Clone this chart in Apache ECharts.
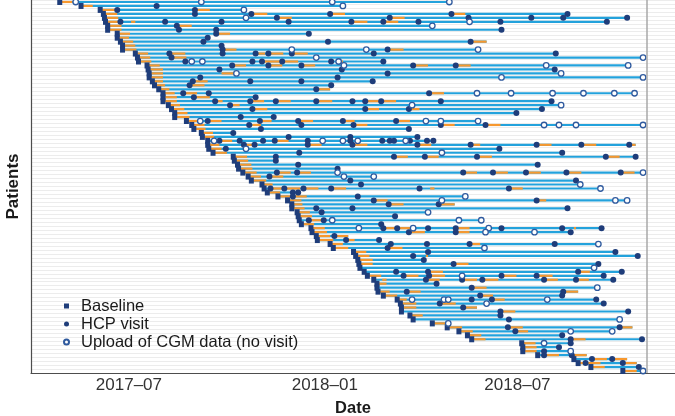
<!DOCTYPE html>
<html>
<head>
<meta charset="utf-8">
<script src="https://cdn.jsdelivr.net/npm/echarts@6/dist/echarts.min.js"></script>
<style>
html, body { margin: 0; padding: 0; background: #fff; }
#chart { width: 675px; height: 416px; }
</style>
</head>
<body>
<div id="chart"></div>
<script>
// days are counted from 2017-07-01 (day 0), one row per patient, top to bottom
var baselineDay = [-65, -45, -27, -24, -23, -22, -20, -20, -11, -11,
	-8, -6, -6, 6, 8, 9, 17, 18, 19, 19,
	22, 24, 28, 32, 32, 32, 37, 40, 43, 43,
	54, 59, 61, 68, 69, 74, 74, 75, 79, 98,
	99, 102, 103, 107, 112, 115, 125, 127, 130, 140,
	149, 153, 153, 158, 159, 160, 162, 171, 172, 176,
	177, 189, 192, 211, 213, 215, 216, 217, 221, 224,
	230, 233, 233, 234, 239, 252, 255, 256, 256, 264,
	267, 285, 299, 310, 318, 322, 369, 370, 370, 384,
	418, 422, 434, 464];

var lastDay = [301, 201, 108, 412, 468, 449, 285, 350, 169, 74,
	336, 87, 328, 401, 483, 239, 469, 400, 406, 483,
	229, 190, 189, 475, 119, 397, 406, 388, 364, 136,
	328, 483, 263, 98, 271, 286, 476, 348, 407, 476,
	138, 384, 196, 483, 230, 420, 424, 443, 159, 316,
	468, 306, 412, 281, 250, 331, 237, 444, 415, 206,
	235, 441, 334, 457, 478, 277, 441, 437, 463, 446,
	455, 289, 440, 422, 407, 439, 446, 327, 469, 349,
	461, 300, 473, 454, 407, 482, 415, 404, 415, 430,
	468, 477, 479, 483];

var visitDays = [[], [26], [-11, 62], [62, 115, 189, 303, 412], [139, 245, 319, 378, 408, 468],
	[-8, 34, 87, 150, 209, 239, 272, 349, 449], [45], [47, 82, 350], [82, 169], [74],
	[70, 187, 321], [87], [88, 243], [38, 88, 119, 131, 153, 230, 401], [40],
	[53, 116, 125, 144, 190, 239], [97, 131, 162, 267, 307], [85, 200, 400], [243], [67, 196],
	[60, 114, 162, 229], [57, 190], [176], [51, 75, 282], [61, 119],
	[81, 114, 138, 176, 210, 222, 237, 293, 397], [95], [116, 222, 263, 388], [364], [105, 136],
	[74, 123, 159, 201, 251], [113, 162, 211, 293, 335], [124, 263], [98], [150, 208, 271],
	[85, 104, 126, 137, 168, 208, 238, 245, 249, 264, 280, 286], [108, 118, 168, 210, 271, 321, 383, 425, 470], [91, 348], [160, 407], [138, 249, 278, 327, 448, 476],
	[138], [159, 384], [196], [139, 158, 314, 342, 373, 411, 462], [132],
	[208, 420], [218], [133, 146, 164, 190, 273, 357], [154, 159], [154, 215],
	[230, 383], [244, 291], [176, 210, 412], [181], [250],
	[169, 183], [237], [239, 252, 281, 307, 350, 407, 444], [263, 307, 415], [193],
	[204, 235], [246, 280, 320, 400], [243], [281, 457], [267, 478],
	[277], [305, 441], [], [251, 281, 422, 463], [258, 282, 350, 383, 446],
	[279, 313, 332, 390, 420, 455], [289], [322], [261, 408], [330, 407],
	[322, 341, 439], [292, 446], [314], [349, 469], [349],
	[357], [], [356, 461], [363], [407],
	[415, 482], [415], [404], [390], [390, 416],
	[435, 454], [429, 464], [479], []];

var uploadDays = [[-50, 68, 191, 301], [201], [108], [], [110],
	[320], [285], [], [], [],
	[], [], [153, 223, 328], [], [176, 483],
	[59, 69, 197], [202, 392, 469], [], [101, 406], [350, 483],
	[], [], [], [327, 359, 398, 427, 456, 475], [],
	[], [266, 406], [], [], [],
	[67, 279, 293, 328], [390, 404, 420, 483], [], [], [],
	[80, 182, 201, 215, 260], [], [110], [294], [],
	[], [], [], [196, 483], [202, 230],
	[], [424], [443], [], [316],
	[294, 457, 468], [], [], [281], [],
	[191, 310, 331], [], [216, 267, 338], [335, 381], [],
	[], [441], [334], [], [],
	[], [], [437], [], [313],
	[], [], [440], [], [],
	[266, 296, 300, 393], [336], [], [], [],
	[461], [300], [], [415, 454], [],
	[], [390], [], [415], [],
	[], [], [], [483]];

// CGM wear periods shown in orange, [start, end]
var wearDays = [[[-65, -53]], [[-45, -34]], [[-27, -13], [62, 76]], [[-24, -11], [115, 130], [189, 203], [303, 316]], [[-23, -10], [139, 153], [245, 259]],
	[[-22, -10], [2, 6], [209, 224], [239, 253]], [[-20, -7], [45, 59]], [[-20, -7]], [[-11, 1], [82, 95]], [[-11, 0]],
	[[-8, 4], [321, 336]], [[-6, 6]], [[-6, 7], [88, 101], [243, 258]], [[6, 18], [38, 53], [119, 128], [131, 145], [153, 168]], [[8, 20], [40, 54]],
	[[9, 21], [125, 142], [144, 159], [197, 201]], [[17, 29], [97, 110], [131, 144], [162, 175], [267, 281], [307, 321]], [[18, 32]], [[19, 32], [87, 101]], [[19, 32]],
	[[22, 32], [60, 74]], [[24, 34], [57, 71]], [[28, 38], [176, 189]], [[32, 43], [51, 64], [282, 296]], [[32, 45], [61, 76]],
	[[32, 45], [81, 88], [114, 127], [138, 152], [176, 191], [222, 236], [237, 251]], [[37, 48], [95, 104]], [[40, 52], [116, 130], [222, 235], [263, 273]], [[43, 55]], [[43, 57]],
	[[54, 66], [74, 87], [123, 134], [159, 173], [201, 212], [251, 264]], [[59, 71], [116, 124], [211, 224], [293, 306], [335, 349]], [[61, 72]], [[68, 79]], [[69, 80]],
	[[85, 97], [137, 150]], [[74, 85], [108, 121], [168, 181], [210, 224], [271, 284], [321, 330], [383, 397], [425, 439], [470, 476]], [[75, 87]], [[79, 92]], [[98, 111], [249, 262], [278, 291], [327, 341], [448, 461]],
	[[99, 112]], [[102, 115]], [[103, 116]], [[107, 120], [141, 152], [160, 171], [316, 327], [342, 356], [373, 387], [411, 425], [462, 475]], [[112, 124], [132, 145]],
	[[115, 129]], [[125, 135]], [[133, 145], [146, 161], [164, 178], [192, 204], [283, 287], [357, 370]], [[130, 142]], [[141, 167]],
	[[149, 162], [230, 243], [383, 392]], [[153, 163], [244, 258], [291, 306]], [[153, 165]], [[158, 170]], [[159, 172]],
	[[170, 181]], [[162, 174]], [[171, 184], [239, 252], [252, 266], [307, 320], [418, 420]], [[172, 186], [263, 278], [307, 320]], [[176, 189], [193, 206]],
	[[177, 192], [204, 212]], [[189, 201], [320, 330]], [[192, 206], [243, 257]], [[211, 223]], [[213, 226], [279, 281]],
	[[215, 229]], [[216, 229], [305, 319]], [], [[281, 295], [422, 433]], [[224, 237], [258, 272], [282, 297], [350, 364], [383, 398]],
	[[238, 242], [279, 292], [313, 327], [332, 347], [390, 403], [420, 432]], [[233, 242]], [[322, 336]], [[234, 245], [261, 274], [408, 422]], [[239, 252], [330, 342]],
	[[252, 261], [341, 353]], [[255, 270], [292, 307]], [[256, 270], [314, 327]], [[349, 363]], [[264, 276]],
	[], [[285, 297]], [[299, 313], [356, 370], [461, 473]], [[310, 323], [363, 375]], [[318, 331]],
	[[322, 335], [415, 429]], [[369, 382]], [[370, 383]], [[370, 383]], [[390, 404], [416, 430]],
	[[435, 449], [454, 468]], [[422, 429], [429, 443], [464, 477]], [[434, 447]], [[464, 477]]];

var cutoffDay = 486;
var tickDays = [0, 184, 365];   // 2017-07-01, 2018-01-01, 2018-07-01
var tickLabels = ['2017–07', '2018–01', '2018–07'];

var patients = [];
var spanData = [];
var wearData = [];
var baseData = [];
var visitData = [];
var uploadData = [];
for (var i = 0; i < baselineDay.length; i++) {
	patients.push('P' + (i + 1));
	spanData.push([baselineDay[i], lastDay[i], i]);
	baseData.push([baselineDay[i], i]);
	for (var j = 0; j < wearDays[i].length; j++) {
		wearData.push([wearDays[i][j][0], wearDays[i][j][1], i]);
	}
	for (var j = 0; j < visitDays[i].length; j++) {
		visitData.push([visitDays[i][j], i]);
	}
	for (var j = 0; j < uploadDays[i].length; j++) {
		uploadData.push([uploadDays[i][j], i]);
	}
}

function segment(color) {
	return function(params, api) {
		var p1 = api.coord([api.value(0), api.value(2)]);
		var p2 = api.coord([api.value(1), api.value(2)]);
		return {
			type : 'line',
			shape : { x1 : p1[0], y1 : p1[1], x2 : p2[0], y2 : p2[1] },
			style : { stroke : color, lineWidth : 2.2 }
		};
	};
}

var chart = echarts.init(document.getElementById('chart'));
var option = {
	animation : false,
	textStyle : { fontFamily : 'Liberation Sans, Arial, sans-serif' },
	grid : { left : 31, right : 0, top : 0, bottom : 43, outerBoundsMode : 'none', containLabel : false },
	legend : {
		orient : 'vertical',
		left : 63,
		top : 297,
		padding : 0,
		itemGap : 0,
		itemWidth : 5,
		itemHeight : 5,
		textStyle : { fontSize : 16.5, color : '#1a1a1a', lineHeight : 18, padding : [0, 0, 0, 7] },
		data : ['Baseline', 'HCP visit', 'Upload of CGM data (no visit)']
	},
	xAxis : {
		type : 'value',
		min : -92,
		max : 513,
		name : 'Date',
		nameLocation : 'middle',
		nameGap : 27,
		nameTextStyle : { fontSize : 16.5, fontWeight : 'bold', color : '#1a1a1a' },
		axisLine : { show : true, onZero : false, lineStyle : { color : '#4d4d4d', width : 1.2 } },
		axisTick : { show : false },
		splitLine : { show : false },
		axisLabel : {
			customValues : tickDays,
			fontSize : 17,
			color : '#333',
			margin : 4,
			formatter : function(v) {
				return tickLabels[tickDays.indexOf(v)];
			}
		}
	},
	yAxis : {
		type : 'category',
		inverse : true,
		data : patients,
		name : 'Patients',
		nameLocation : 'middle',
		nameGap : 9,
		nameTextStyle : { fontSize : 17, fontWeight : 'bold', color : '#1a1a1a' },
		axisLine : { show : true, onZero : false, lineStyle : { color : '#4d4d4d', width : 1.2 } },
		axisTick : { show : false },
		axisLabel : { show : false },
		splitLine : { show : true, interval : 0, lineStyle : { color : '#ececec', width : 1 } }
	},
	series : [
		{
			name : 'span',
			type : 'custom',
			renderItem : segment('#23a2dc'),
			encode : { x : [0, 1], y : 2 },
			data : spanData,
			z : 1
		},
		{
			name : 'wear',
			type : 'custom',
			renderItem : segment('#f7982e'),
			encode : { x : [0, 1], y : 2 },
			data : wearData,
			z : 2
		},
		{
			name : 'Baseline',
			type : 'scatter',
			symbol : 'rect',
			symbolSize : [5, 6],
			itemStyle : { color : '#1f3d7a', opacity : 1 },
			data : baseData,
			z : 3,
			markLine : {
				silent : true,
				symbol : 'none',
				label : { show : false },
				lineStyle : { color : '#a8a8a8', width : 1.5, type : 'solid' },
				data : [{ xAxis : cutoffDay }]
			}
		},
		{
			name : 'HCP visit',
			type : 'scatter',
			symbol : 'circle',
			symbolSize : 6,
			itemStyle : { color : '#1f3d7a', opacity : 1 },
			data : visitData,
			z : 4
		},
		{
			name : 'Upload of CGM data (no visit)',
			type : 'scatter',
			symbol : 'circle',
			symbolSize : 5.5,
			itemStyle : { color : '#ffffff', borderColor : '#2f5a9e', borderWidth : 1.3, opacity : 1 },
			data : uploadData,
			z : 4
		}
	]
};
chart.setOption(option);
window.onresize = chart.resize;
</script>
</body>
</html>
